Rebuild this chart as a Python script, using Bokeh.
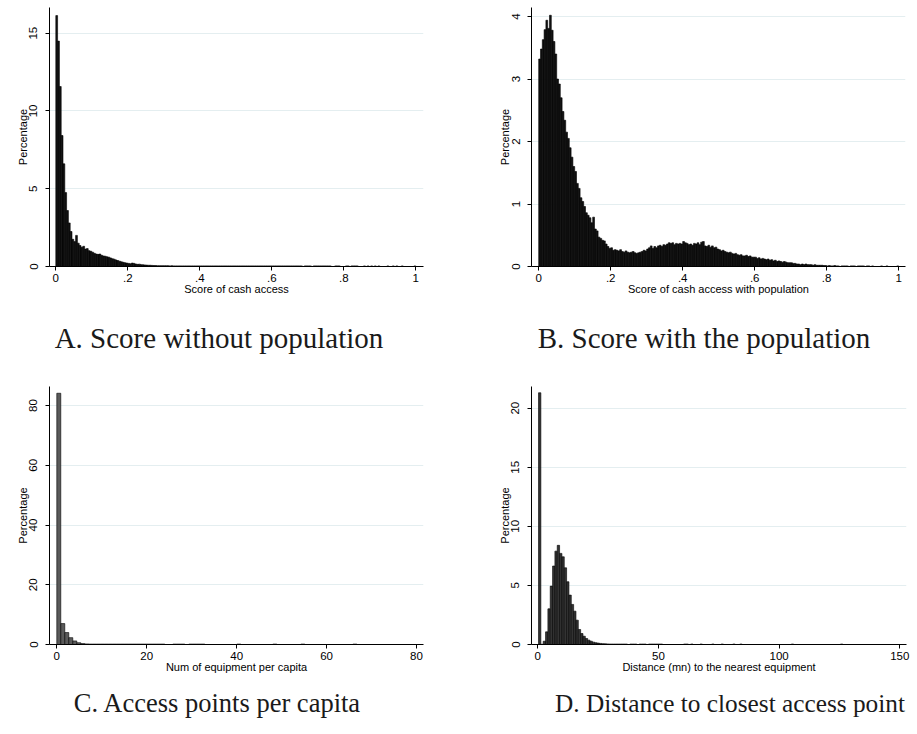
from bokeh.plotting import figure
from bokeh.models import Range1d, FixedTicker, Div, ColumnDataSource
from bokeh.layouts import column, row
from bokeh.embed import file_html
from bokeh.resources import INLINE

# ---------------------------------------------------------------------------
# Histogram data (percentage of communes per bin)
# ---------------------------------------------------------------------------

# A. Score of cash access (bins of width 0.005 starting at 0)
score_start = 0.0
score_width = 0.005
score_pct = [
    16.13, 14.49, 11.57, 8.42, 6.60, 4.75, 3.60, 2.80, 2.25, 1.75,
    1.60, 2.00, 1.50, 1.35, 1.24, 1.30, 1.12, 1.15, 1.02, 0.98,
    0.92, 0.85, 0.80, 0.78, 0.80, 0.72, 0.68, 0.66, 0.62, 0.60,
    0.55, 0.50, 0.47, 0.42, 0.38, 0.34, 0.30, 0.27, 0.24, 0.22,
    0.20, 0.18, 0.22, 0.20, 0.16, 0.14, 0.15, 0.12, 0.11, 0.10,
    0.09, 0.08, 0.08, 0.07, 0.06, 0.06, 0.05, 0.05, 0.05, 0.05,
    0.05, 0.05, 0.05, 0.04, 0.05, 0.04, 0.04, 0.04, 0.04, 0.04,
    0.04, 0.04, 0.04, 0.04, 0.04, 0.04, 0.04, 0.04, 0.04, 0.04,
    0.04, 0.04, 0.04, 0.04, 0.04, 0.04, 0.04, 0.04, 0.04, 0.04,
    0.04, 0.04, 0.04, 0.04, 0.04, 0.04, 0.04, 0.04, 0.04, 0.04,
    0.04, 0.04, 0.04, 0.04, 0.04, 0.04, 0.04, 0.04, 0.04, 0.04,
    0.04, 0.04, 0.04, 0.04, 0.04, 0.04, 0.04, 0.04, 0.04, 0.04,
    0.04, 0.04, 0.04, 0.04, 0.04, 0.04, 0.04, 0.04, 0.04, 0.04,
    0.04, 0.04, 0.04, 0.04, 0.04, 0.04, 0.04, 0.00, 0.04, 0.04,
    0.04, 0.04, 0.00, 0.04, 0.04, 0.04, 0.04, 0.04, 0.04, 0.04,
    0.04, 0.04, 0.04, 0.00, 0.00, 0.04, 0.04, 0.04, 0.00, 0.00,
    0.00, 0.04, 0.04, 0.00, 0.04, 0.04, 0.04, 0.04, 0.00, 0.00,
    0.00, 0.04, 0.00, 0.04, 0.00, 0.04, 0.00, 0.04, 0.00, 0.04,
    0.00, 0.00, 0.00, 0.00, 0.04, 0.00, 0.00, 0.04, 0.00, 0.04,
    0.00, 0.00, 0.04, 0.00, 0.00, 0.00, 0.00, 0.00, 0.00, 0.04,
]

# B. Score of cash access weighted by population (bins of width 0.005)
popscore_start = 0.0
popscore_width = 0.005
popscore_pct = [
    3.32, 3.48, 3.63, 3.79, 3.94, 3.81, 4.02, 3.78, 3.60, 3.40,
    3.00, 2.92, 2.70, 2.48, 2.34, 2.15, 2.05, 1.90, 1.75, 1.60,
    1.52, 1.33, 1.25, 1.10, 1.04, 0.96, 0.86, 0.82, 0.78, 0.70,
    0.79, 0.60, 0.57, 0.47, 0.45, 0.42, 0.41, 0.36, 0.32, 0.29,
    0.30, 0.26, 0.27, 0.26, 0.25, 0.27, 0.24, 0.23, 0.25, 0.23,
    0.22, 0.23, 0.24, 0.22, 0.21, 0.22, 0.23, 0.24, 0.26, 0.25,
    0.28, 0.30, 0.33, 0.29, 0.32, 0.30, 0.33, 0.34, 0.32, 0.35,
    0.34, 0.36, 0.38, 0.37, 0.38, 0.35, 0.37, 0.36, 0.37, 0.36,
    0.40, 0.38, 0.37, 0.35, 0.36, 0.34, 0.37, 0.36, 0.38, 0.35,
    0.39, 0.40, 0.33, 0.32, 0.34, 0.31, 0.33, 0.30, 0.31, 0.28,
    0.27, 0.25, 0.26, 0.24, 0.23, 0.22, 0.23, 0.21, 0.20, 0.21,
    0.19, 0.18, 0.19, 0.17, 0.17, 0.18, 0.16, 0.17, 0.15, 0.15,
    0.15, 0.13, 0.14, 0.12, 0.13, 0.12, 0.11, 0.12, 0.10, 0.11,
    0.09, 0.10, 0.08, 0.09, 0.08, 0.07, 0.08, 0.07, 0.06, 0.06,
    0.06, 0.05, 0.05, 0.04, 0.04, 0.03, 0.04, 0.03, 0.04, 0.03,
    0.03, 0.03, 0.02, 0.03, 0.02, 0.02, 0.02, 0.02, 0.015, 0.015,
    0.01, 0.015, 0.01, 0.01, 0.015, 0.01, 0.01, 0.00, 0.01, 0.01,
    0.01, 0.01, 0.00, 0.01, 0.01, 0.01, 0.00, 0.01, 0.01, 0.01,
    0.01, 0.00, 0.01, 0.01, 0.00, 0.01, 0.00, 0.00, 0.00, 0.00,
    0.01, 0.00, 0.00, 0.01, 0.00, 0.00, 0.00, 0.00, 0.00, 0.01,
]

# C. Number of equipment per capita (bins of width 0.89)
equip_start = 0.0
equip_width = 0.89
equip_pct = [
    84.1, 7.0, 4.0, 2.3, 1.2, 0.6, 0.3, 0.2, 0.15, 0.15,
    0.15, 0.15, 0.15, 0.15, 0.15, 0.15, 0.15, 0.15, 0.15, 0.15,
    0.15, 0.15, 0.15, 0.15, 0.15, 0.15, 0.15, 0.0, 0.0, 0.15,
    0.15, 0.15, 0.0, 0.15, 0.15, 0.15, 0.15, 0.0, 0.0, 0.0,
    0.0, 0.0, 0.0, 0.0, 0.0, 0.15, 0.0, 0.0, 0.0, 0.0,
    0.0, 0.0, 0.0, 0.0, 0.15, 0.0, 0.0, 0.0, 0.0, 0.0,
    0.0, 0.15, 0.0, 0.0, 0.0, 0.0, 0.0, 0.0, 0.0, 0.0,
    0.0, 0.0, 0.0, 0.0, 0.15, 0.0,
]

# D. Distance in minutes to the nearest equipment (bins of width 0.97)
dist_start = 0.3
dist_width = 0.97
dist_pct = [
    21.3, 0.02, 0.28, 1.07, 3.02, 4.94, 6.64, 7.90, 8.39, 7.71,
    7.42, 6.49, 5.31, 4.18, 3.39, 2.82, 2.06, 1.27, 0.93, 0.70,
    0.51, 0.37, 0.28, 0.20, 0.15, 0.12, 0.09, 0.07, 0.06, 0.05,
    0.04, 0.04, 0.04, 0.04, 0.04, 0.04, 0.04, 0.04, 0.00, 0.04,
    0.04, 0.04, 0.00, 0.04, 0.04, 0.04, 0.00, 0.04, 0.04, 0.04,
    0.04, 0.04, 0.04, 0.00, 0.00, 0.00, 0.00, 0.00, 0.00, 0.00,
    0.00, 0.00, 0.04, 0.04, 0.00, 0.04, 0.00, 0.00, 0.00, 0.04,
    0.00, 0.00, 0.00, 0.00, 0.04, 0.00, 0.00, 0.00, 0.04, 0.00,
    0.00, 0.00, 0.00, 0.04, 0.00, 0.00, 0.04, 0.00, 0.00, 0.00,
    0.00, 0.00, 0.00, 0.00, 0.00, 0.00, 0.00, 0.00, 0.00, 0.00,
    0.00, 0.00, 0.00, 0.00, 0.00, 0.00, 0.00, 0.00, 0.04, 0.00,
    0.00, 0.00, 0.00, 0.00, 0.00, 0.00, 0.00, 0.00, 0.00, 0.00,
    0.00, 0.00, 0.00, 0.00, 0.00, 0.00, 0.00, 0.00, 0.00, 0.04,
    0.00,
]

# Axis ticks and labels
score_ticks = [0, 0.2, 0.4, 0.6, 0.8, 1.0]
score_tick_labels = ["0", ".2", ".4", ".6", ".8", "1"]
score_yticks = [0, 5, 10, 15]
popscore_yticks = [0, 1, 2, 3, 4]
equip_ticks = [0, 20, 40, 60, 80]
equip_yticks = [0, 20, 40, 60, 80]
dist_ticks = [0, 50, 100, 150]
dist_yticks = [0, 5, 10, 15, 20]

captions = [
    "A. Score without population",
    "B. Score with the population",
    "C. Access points per capita",
    "D. Distance to closest access point",
]

SANS = "Liberation Sans"
SERIF = "Liberation Serif"
GRID = "#e4eef0"


def histogram_panel(start, width, pct, x_range, y_range, xticks, xlabels,
                    yticks, xtitle, fill, w, h, borders):
    left_b, right_b, top_b, bottom_b = borders
    p = figure(width=w, height=h, x_range=Range1d(*x_range),
               y_range=Range1d(*y_range), output_backend="svg",
               toolbar_location=None, min_border_left=left_b,
               min_border_right=right_b, min_border_top=top_b,
               min_border_bottom=bottom_b)
    lefts = [start + i * width for i in range(len(pct))]
    src = ColumnDataSource(dict(left=lefts,
                                right=[x + width for x in lefts],
                                top=pct))
    p.quad(left="left", right="right", bottom=0, top="top", source=src,
           fill_color=fill, line_color="black", line_width=0.6)

    p.outline_line_color = None
    p.background_fill_color = "white"
    p.border_fill_color = "white"
    p.xgrid.grid_line_color = None
    p.ygrid.grid_line_color = GRID
    p.ygrid.grid_line_width = 1

    p.xaxis.ticker = FixedTicker(ticks=xticks)
    if xlabels is not None:
        p.xaxis.major_label_overrides = {t: l for t, l in zip(xticks, xlabels)}
    p.yaxis.ticker = FixedTicker(ticks=yticks)
    p.yaxis.major_label_orientation = "vertical"

    for ax in (p.xaxis, p.yaxis):
        ax.axis_line_color = "black"
        ax.axis_line_width = 1
        ax.major_tick_line_color = "black"
        ax.major_tick_in = 0
        ax.major_tick_out = 4
        ax.minor_tick_line_color = None
        ax.major_label_text_font = SANS
        ax.major_label_text_font_size = "11.5px"
        ax.major_label_text_color = "black"
        ax.axis_label_text_font = SANS
        ax.axis_label_text_font_size = "11px"
        ax.axis_label_text_font_style = "normal"
        ax.axis_label_text_color = "black"

    p.xaxis.major_label_standoff = 3
    p.xaxis.axis_label = xtitle
    p.xaxis.axis_label_standoff = -2
    p.yaxis.major_label_standoff = 8
    p.yaxis.axis_label = "Percentage"
    p.yaxis.axis_label_standoff = -2
    return p


def caption_div(text, w, h, center, top, size):
    html = (
        f'<div style="position:relative; left:{center - 200}px; top:{top}px; '
        f'width:400px; text-align:center; font-family:\'{SERIF}\'; '
        f'font-size:{size}px; line-height:30px; color:#1a1a1a; white-space:nowrap;">'
        f'{text}</div>'
    )
    return Div(text=html, width=w, height=h, margin=0)


pA = histogram_panel(score_start, score_width, score_pct,
                     (-0.0175, 1.0215), (0, 16.65),
                     score_ticks, score_tick_labels, score_yticks,
                     "Score of cash access", "#111111",
                     458, 305, (49, 35, 7, 39))
pB = histogram_panel(popscore_start, popscore_width, popscore_pct,
                     (-0.02, 1.019), (0, 4.144),
                     score_ticks, score_tick_labels, popscore_yticks,
                     "Score of cash access with population", "#111111",
                     459, 305, (73, 12, 7, 39))
pC = histogram_panel(equip_start, equip_width, equip_pct,
                     (-1.62, 81.56), (0, 86.36),
                     equip_ticks, None, equip_yticks,
                     "Num of equipment per capita", "#5a5a5a",
                     458, 315, (49, 35, 16, 41))
pD = histogram_panel(dist_start, dist_width, dist_pct,
                     (-2.61, 152.8), (0, 21.83),
                     dist_ticks, None, dist_yticks,
                     "Distance (mn) to the nearest equipment", "#333333",
                     459, 315, (73, 11, 16, 41))

capA = caption_div(captions[0], 458, 65, 219, 18, 29)
capB = caption_div(captions[1], 459, 65, 246, 18, 29)
capC = caption_div(captions[2], 458, 49, 217, 3, 26.5)
capD = caption_div(captions[3], 459, 49, 272, 3, 25.3)

layout = column(row(pA, pB), row(capA, capB), row(pC, pD), row(capC, capD))

open("out.html", "w").write(file_html(layout, INLINE))
